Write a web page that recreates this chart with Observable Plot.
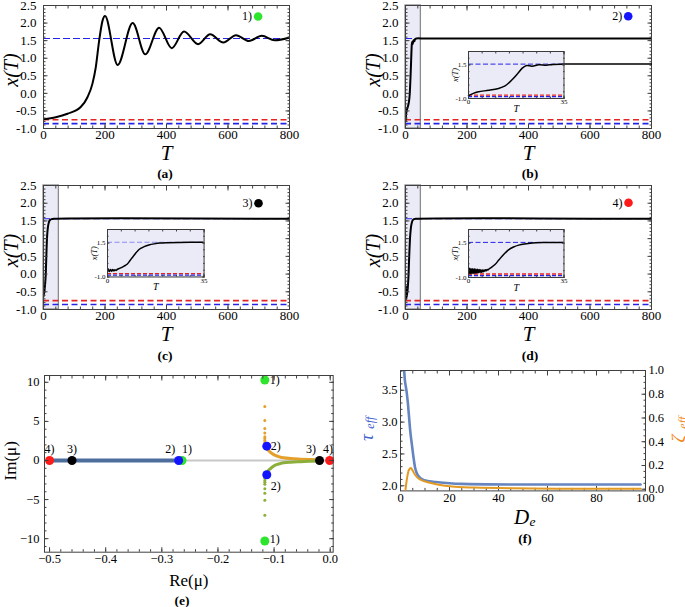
<!DOCTYPE html>
<html><head><meta charset="utf-8">
<script src="https://cdn.jsdelivr.net/npm/d3@7"></script>
<script src="https://cdn.jsdelivr.net/npm/@observablehq/plot@0.6"></script>
<style>
body{margin:0;background:#fff;}
#fig{position:relative;width:685px;height:607px;overflow:hidden;background:#fff;}
#fig svg, #fig svg text{font-family:"Liberation Serif","Times New Roman",serif !important;}
.cap{position:absolute;font-family:"Liberation Serif",serif;font-weight:bold;font-size:13.5px;line-height:1;transform:translate(-50%,-50%);white-space:nowrap;}
</style></head><body><div id="fig"></div>
<script>
// ---------------- data ----------------
const zoomWindow = [0, 50];
const fixedHi = 1.56, fixedRed = -0.75, fixedLo = -0.86;
const caseIds = [1, 2, 3, 4];
const caseLabels = ["1)", "2)", "3)", "4)"];
const caseColors = ["#2ee52e", "#1414ff", "#000000", "#ff1a1a"];

// (a)
const Ta = [0, 40, 78, 121, 143, 159, 170, 181, 192, 200, 241, 290, 331, 376, 417, 457, 503, 542, 585, 626, 668, 710, 752, 800];
const Xa = [-0.74, -0.68, -0.58, -0.39, -0.11, 0.27, 0.74, 1.5, 2.07, 2.2, 0.81, 2.0, 1.11, 1.87, 1.285, 1.76, 1.40, 1.68, 1.446, 1.655, 1.49, 1.636, 1.51, 1.59];
// (b) inset series
const Tb = [0, 2, 3.7, 7.4, 11, 13.4, 15, 16.5, 18.2, 19.7, 21.3, 23.3, 25.8, 28.5, 31, 35, 67];
const Xb = [-0.79, -0.6, -0.49, -0.39, -0.25, -0.06, 0.2, 0.5, 0.9, 1.26, 1.46, 1.40, 1.51, 1.48, 1.54, 1.56, 1.56];
// (c) inset series
const Tc = [0, 0.3, 0.7, 1.1, 1.5, 1.9, 2.3, 2.7, 3.1, 3.6, 4.8, 6, 7.2, 8.1, 9, 10, 10.9, 12, 13.3, 15, 16.9, 19, 21.7, 26, 35];
const Xc = [-0.63, -0.42, -0.6, -0.44, -0.58, -0.45, -0.55, -0.46, -0.52, -0.43, -0.33, -0.2, -0.04, 0.2, 0.44, 0.7, 0.92, 1.1, 1.24, 1.36, 1.44, 1.5, 1.53, 1.55, 1.56];
// (d) inset series
const Td = [0, 0.3, 0.6, 0.9, 1.2, 1.5, 1.8, 2.1, 2.4, 2.7, 3.0, 3.3, 3.6, 3.9, 4.2, 4.5, 4.8, 5.1, 5.4, 5.7, 6.0, 6.3, 6.6, 6.9, 7.2, 7.5,
            8.5, 9.8, 11, 12.3, 13.5, 14.8, 16.5, 18.4, 20.5, 23.4, 28, 35];
const Xd = [-0.72, -0.32, -0.74, -0.34, -0.72, -0.36, -0.70, -0.36, -0.70, -0.38, -0.68, -0.40, -0.66, -0.42, -0.64, -0.44, -0.62, -0.46, -0.58, -0.46, -0.54, -0.44, -0.50, -0.42, -0.44, -0.38,
            -0.25, -0.04, 0.25, 0.55, 0.8, 1.03, 1.22, 1.36, 1.45, 1.52, 1.55, 1.56];
const Tlast = 800, Xlast = 1.56;

const tTicks = [0, 200, 400, 600, 800];
const xTicks = [-1.0, -0.5, 0.0, 0.5, 1.0, 1.5, 2.0, 2.5];
const insetTTicks = [0, 35];
const insetXTicks = [-1.0, 1.5];

// (e) eigenvalues
const eigRe    = [-0.5, -0.46, -0.264, -0.27, -0.019, -0.001, -0.113, -0.113, -0.1165, -0.1165];
const eigIm    = [0, 0, 0, 0, 0, 0, 1.83, -1.83, 10.3, -10.3];
const eigCase  = [4, 3, 1, 2, 3, 4, 2, 2, 1, 1];
const eigLabel = ["4)", "3)", "1)", "2)", "3)", "4)", "2)", "2)", "1)", "1)"];
const realBranchRe = [-0.5, -0.27];
const realBranchIm = [0, 0];
const upperRe = [-0.1135, -0.112, -0.109, -0.105, -0.098, -0.090, -0.083, -0.070, -0.053, -0.038, -0.024, -0.015];
const upperIm = [1.83, 1.5, 1.2, 0.95, 0.64, 0.45, 0.34, 0.24, 0.17, 0.12, 0.09, 0.06];
const lowerRe = [-0.1135, -0.112, -0.109, -0.105, -0.098, -0.090, -0.083, -0.070, -0.053, -0.038, -0.024, -0.015];
const lowerIm = [-1.83, -1.5, -1.2, -0.95, -0.6, -0.42, -0.3, -0.22, -0.16, -0.11, -0.08, -0.05];
const upperDotIm = [2.1, 2.3, 2.55, 2.8, 3.05, 3.5, 4.1, 5.1, 6.9];
const lowerDotIm = [-2.1, -2.3, -2.55, -2.8, -3.05, -3.6, -4.2, -5.1, -7.0];
const dotRe = -0.1165;
const reTicks = [-0.5, -0.4, -0.3, -0.2, -0.1, 0.0];
const imTicks = [-10, -5, 0, 5, 10];

// (f)
const DeTau = [1.2, 1.5, 1.8, 2.45, 3.0, 3.4, 4.0, 4.8, 5.4, 6.1, 7.0, 8.9, 11, 14.3, 20, 25, 45, 70, 98];
const tau   = [3.92, 3.81, 3.65, 3.49, 3.30, 3.12, 2.85, 2.60, 2.42, 2.26, 2.17, 2.10, 2.075, 2.06, 2.04, 2.03, 2.02, 2.02, 2.02];
const DeZeta = [1.9, 2.5, 3.0, 3.5, 4.2, 5.0, 6.0, 7.0, 8.5, 11.6, 15, 21, 30, 45, 70, 98];
const zeta   = [-0.03, 0.07, 0.13, 0.165, 0.178, 0.155, 0.12, 0.097, 0.076, 0.056, 0.04, 0.022, 0.014, 0.008, 0.004, 0.003];
const DeTicks = [0, 20, 40, 60, 80, 100];
const tauTicks = [2.0, 2.5, 3.0, 3.5];
const zetaTicks = [0.0, 0.2, 0.4, 0.6, 0.8, 1.0];

// ---------------- drawing ----------------
const SERIF = "Liberation Serif";
const BLUE = "#2424e6", RED = "#e62424", LAV = "#ebebf8", FR = "#404040";
const fig = document.getElementById("fig");
const F = {fontFamily: SERIF};
const T_ = (o) => Object.assign({fontFamily: SERIF, textAnchor: "middle", lineAnchor: "middle"}, o);

function mk(frame, m, opts) {
  const [x0, x1, y0, y1] = frame;
  const [mt, mr, mb, ml] = m;
  const svg = Plot.plot(Object.assign({
    width: x1 - x0 + ml + mr,
    height: y1 - y0 + mt + mb,
    marginTop: mt, marginRight: mr, marginBottom: mb, marginLeft: ml,
    style: {background: "transparent", overflow: "visible"}
  }, opts));
  svg.style.position = "absolute";
  svg.style.left = (x0 - ml) + "px";
  svg.style.top = (y0 - mt) + "px";
  svg.style.maxWidth = "none";
  svg.setAttribute("font-family", SERIF);
  fig.appendChild(svg);
  return svg;
}
const blank = () => "";
function ticksX(maj, min, anchors, a = 4.5, b = 2.5) {
  return anchors.flatMap(an => [
    Plot.axisX(maj, {anchor: an, tickSize: -a, tickFormat: blank, label: null, stroke: FR}),
    Plot.axisX(min, {anchor: an, tickSize: -b, tickFormat: blank, label: null, stroke: FR})]);
}
function ticksY(maj, min, anchors, a = 4.5, b = 2.5) {
  return anchors.flatMap(an => [
    Plot.axisY(maj, {anchor: an, tickSize: -a, tickFormat: blank, label: null, stroke: FR}),
    Plot.axisY(min, {anchor: an, tickSize: -b, tickFormat: blank, label: null, stroke: FR})]);
}
const rng = (a, b, s) => d3.range(Math.round(a / s), Math.round(b / s) + 1).map(k => +(k * s).toFixed(6));

function timePanel(frame, T, X, caseNo, lg, withWindow, curve) {
  const marks = [];
  if (withWindow) marks.push(Plot.rect([zoomWindow], {x1: d => d[0], x2: d => d[1], fill: LAV, stroke: "#8c8c8c", strokeWidth: 1.3}));
  marks.push(
    Plot.ruleY([fixedHi], {stroke: BLUE, strokeWidth: 1.1, strokeDasharray: "7,3"}),
    Plot.ruleY([fixedRed], {stroke: RED, strokeWidth: 1.6, strokeDasharray: "6,3.5"}),
    Plot.ruleY([fixedLo], {stroke: BLUE, strokeWidth: 1.6, strokeDasharray: "6,3.5"}),
    Plot.line(T, {x: T, y: X, stroke: "#000", strokeWidth: 2, curve, clip: true}),
    Plot.axisX(tTicks, {...F, anchor: "bottom", tickSize: 0, tickPadding: 1, tickFormat: d => String(d), fontSize: 13, label: null}),
    Plot.axisY(xTicks, {...F, anchor: "left", tickSize: 0, tickPadding: 7, tickFormat: d => d.toFixed(1), fontSize: 13, label: null}),
    ...ticksX(tTicks, rng(0, 800, 40), ["bottom", "top"]),
    ...ticksY(xTicks, rng(-1, 2.5, 0.1), ["left", "right"]),
    Plot.frame({stroke: FR}),
    Plot.dot([caseNo], {x: null, y: null, frameAnchor: "top-right", dx: lg[0], dy: lg[1], r: 4.3, fill: d => d}),
    Plot.text([caseLabels[caseNo - 1]], T_({frameAnchor: "top-right", dx: lg[0] - 11, dy: lg[1], fontSize: 12})),
    Plot.text(["x(T)"], T_({frameAnchor: "left", dx: -32, dy: 3, rotate: -90, fontSize: 20, fontStyle: "italic"})),
    Plot.text(["T"], T_({frameAnchor: "bottom", dy: 25, fontSize: 21, fontStyle: "italic"}))
  );
  mk(frame, [8, 12, 40, 44], {
    x: {domain: [0, 800], axis: null}, y: {domain: [-1, 2.5], axis: null},
    color: {domain: caseIds, range: caseColors},
    marks
  });
}
function insetPanel(frame, T, X, hiColor, clip) {
  mk(frame, [6, 6, 16, 18], {
    x: {domain: [0, 35], axis: null}, y: {domain: [-1, 2.5], axis: null},
    marks: [
      Plot.frame({fill: LAV}),
      Plot.ruleY([fixedHi], {stroke: hiColor, strokeWidth: 1, strokeDasharray: "5,2.5"}),
      Plot.ruleY([fixedRed], {stroke: RED, strokeWidth: 1.4, strokeDasharray: "4,2"}),
      Plot.ruleY([fixedLo], {stroke: BLUE, strokeWidth: 1.4, strokeDasharray: "4,2"}),
      Plot.line(T, {x: T, y: X, stroke: "#000", strokeWidth: 1.5, curve: "catmull-rom", clip}),
      Plot.axisX(insetTTicks, {...F, anchor: "bottom", tickSize: 0, tickPadding: 1, tickFormat: d => String(d), fontSize: 7, label: null}),
      Plot.axisY(insetXTicks, {...F, anchor: "left", tickSize: 0, tickPadding: 2, tickFormat: d => d.toFixed(1), fontSize: 7, label: null}),
      ...ticksX(insetTTicks, rng(0, 35, 5), ["bottom", "top"], 2.5, 1.5),
      ...ticksY(insetXTicks, rng(-1, 2.5, 0.5), ["left", "right"], 2.5, 1.5),
      Plot.frame({stroke: "#3a3a3a"}),
      Plot.text(["x(T)"], T_({frameAnchor: "left", dx: -13, dy: 0, rotate: -90, fontSize: 8.5, fontStyle: "italic"})),
      Plot.text(["T"], T_({frameAnchor: "bottom", dy: 10, fontSize: 10, fontStyle: "italic"}))
    ]
  });
}

const FA = [42.7, 288.7, 5, 128], FB = [405, 651, 5, 128], FC = [42.7, 288.7, 185, 309], FD = [405, 651, 185, 309];
timePanel(FA, Ta, Xa, 1, [-31.4, 11], false, "monotone-x");
timePanel(FB, [...Tb, Tlast], [...Xb, Xlast], 2, [-23.3, 10.7], true, "catmull-rom");
timePanel(FC, [...Tc, Tlast], [...Xc, Xlast], 3, [-31, 17.7], true, "catmull-rom");
timePanel(FD, [...Td, Tlast], [...Xd, Xlast], 4, [-23, 17.3], true, "catmull-rom");
insetPanel([468.3, 563.8, 50.7, 97.7], Tb, Xb, BLUE, false);
insetPanel([106.7, 203.3, 229, 276.5], Tc, Xc, "#8c8cf0", true);
insetPanel([468.3, 563.8, 229, 277], Td, Xd, BLUE, true);

// (e)
const labDx = [0, 0, 5, -8.4, -8.6, -1.7, 9, 9, 10, 10];
const labDy = [-11, -11, -11, -11, -11, -11, 0, 11, 0, -2];
const FE = [44.3, 333, 375, 551.7];
mk(FE, [12, 6, 56, 46], {
  x: {domain: [-0.509, 0.0053], axis: null}, y: {domain: [-11.73, 10.87], axis: null},
  color: {domain: caseIds, range: caseColors},
  marks: [
    Plot.ruleY([0], {stroke: "#c8c8c8", strokeWidth: 2}),
    Plot.line(realBranchRe, {x: realBranchRe, y: realBranchIm, stroke: "#4d6d9d", strokeWidth: 4.2}),
    Plot.dot(upperDotIm, {x: upperDotIm.map(() => dotRe), y: upperDotIm, r: 1.5, fill: "#e3a02a"}),
    Plot.dot(lowerDotIm, {x: lowerDotIm.map(() => dotRe), y: lowerDotIm, r: 1.5, fill: "#8cae3a"}),
    Plot.line(upperRe, {x: upperRe, y: upperIm, stroke: "#e3a02a", strokeWidth: 3, curve: "catmull-rom"}),
    Plot.line(lowerRe, {x: lowerRe, y: lowerIm, stroke: "#8cae3a", strokeWidth: 3, curve: "catmull-rom"}),
    Plot.dot(eigRe, {x: eigRe, y: eigIm, r: 4.5, fill: eigCase}),
    ...eigLabel.map((lab, i) => Plot.text([lab], T_({x: [eigRe[i]], y: [eigIm[i]], dx: labDx[i], dy: labDy[i], fontSize: 12}))),
    Plot.axisX(reTicks, {...F, anchor: "bottom", tickSize: 0, tickPadding: 2, tickFormat: d => d === 0 ? "0.0" : "\u2212" + Math.abs(d).toFixed(1), fontSize: 12.5, label: null}),
    Plot.axisY(imTicks, {...F, anchor: "left", tickSize: 0, tickPadding: 5, tickFormat: d => d < 0 ? "\u2212" + (-d) : String(d), fontSize: 12.5, label: null}),
    ...ticksX(reTicks, rng(-0.5, 0, 0.02), ["bottom", "top"]),
    ...ticksY(imTicks, rng(-11, 10, 1), ["left", "right"]),
    Plot.frame({stroke: FR}),
    Plot.text(["Im(μ)"], T_({frameAnchor: "left", dx: -34, dy: -3, rotate: -90, fontSize: 17})),
    Plot.text(["Re(μ)"], T_({frameAnchor: "bottom", dy: 28, fontSize: 17}))
  ]
});

// (f)
const FF = [400, 645, 369.6, 490];
const TAUC = "#3f62d0", ZETAC = "#f08a24";
mk(FF, [8, 45, 40, 40], {
  x: {domain: [0, 100], axis: null}, y: {domain: [1.92, 3.81], axis: null},
  marks: [
    Plot.line(DeTau, {x: DeTau, y: tau, stroke: "#6585c0", strokeWidth: 2.6, clip: true, curve: "catmull-rom"}),
    Plot.axisX(DeTicks, {...F, anchor: "bottom", tickSize: 0, tickPadding: 2, tickFormat: d => String(d), fontSize: 12.5, label: null}),
    Plot.axisY(tauTicks, {...F, anchor: "left", tickSize: 0, tickPadding: 3, tickFormat: d => d.toFixed(1), fontSize: 12.5, label: null}),
    ...ticksX(DeTicks, rng(0, 100, 5), ["bottom", "top"]),
    ...ticksY(tauTicks, rng(2.0, 3.8, 0.1), ["left"]),
    Plot.frame({stroke: FR}),
    Plot.text(["τ"], T_({frameAnchor: "left", dx: -34, dy: 7, rotate: -90, fontSize: 19, fontStyle: "italic", fill: TAUC})),
    Plot.text(["eff"], T_({frameAnchor: "left", dx: -30, dy: -8, rotate: -90, fontSize: 12, fontStyle: "italic", fill: TAUC})),
    Plot.text(["D"], T_({frameAnchor: "bottom", dx: -1.5, dy: 26, fontSize: 21, fontStyle: "italic"})),
    Plot.text(["e"], T_({frameAnchor: "bottom", dx: 9.5, dy: 31, fontSize: 13.5, fontStyle: "italic"}))
  ]
});
mk(FF, [8, 45, 40, 40], {
  x: {domain: [0, 100], axis: null}, y: {domain: [-0.014, 1.0], axis: null},
  marks: [
    Plot.line(DeZeta, {x: DeZeta, y: zeta, stroke: "#e39a22", strokeWidth: 2, clip: true, curve: "catmull-rom"}),
    Plot.axisY(zetaTicks, {...F, anchor: "right", tickSize: 0, tickPadding: 3, tickFormat: d => d.toFixed(1), fontSize: 12.5, label: null}),
    ...ticksY(zetaTicks, rng(0, 1, 0.05), ["right"]),
    Plot.text(["ζ"], T_({frameAnchor: "right", dx: 33, dy: 8, rotate: -90, fontSize: 19, fontStyle: "italic", fill: ZETAC})),
    Plot.text(["eff"], T_({frameAnchor: "right", dx: 38, dy: -8, rotate: -90, fontSize: 12, fontStyle: "italic", fill: ZETAC}))
  ]
});

// captions
[["(a)", 165, 174], ["(b)", 530, 174], ["(c)", 165, 356], ["(d)", 530, 356], ["(e)", 182, 600.5], ["(f)", 525, 538.5]].forEach(([t, x, y]) => {
  const d = document.createElement("div");
  d.className = "cap"; d.textContent = t; d.style.left = x + "px"; d.style.top = y + "px";
  fig.appendChild(d);
});
</script></body></html>
